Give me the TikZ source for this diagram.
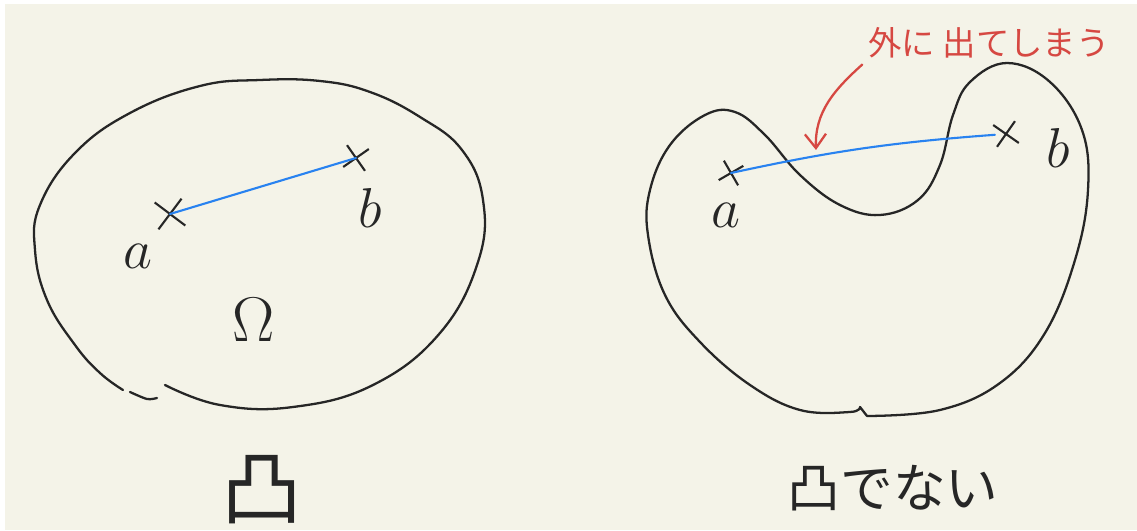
\documentclass[tikz,border=0pt]{standalone}
\usepackage{fix-cm}
\usepackage{fontspec}
\newfontfamily\jpfont{Noto Sans CJK JP}
\usepackage{amsmath}
\usepackage{tikz}
\usetikzlibrary{arrows.meta,shapes.misc,positioning}

\begin{document}
\begin{tikzpicture}[x=0.02cm, y=-0.02cm, >={Straight Barb[length=8pt,width=12pt]}]

        \definecolor{paper}{RGB}{244, 243, 232}
        \definecolor{segblue}{RGB}{40, 130, 240}
        \definecolor{notered}{RGB}{214, 72, 66}
        \tikzset{
            outline/.style={draw=black!85, line width=1.3pt, line cap=round, line join=round},
            pointx/.style={cross out, draw=black!85, line width=1.2pt, minimum size=0.4cm, inner sep=0pt},
            blueseg/.style={draw=segblue, line width=1.2pt, line cap=round},
            letter/.style={font=\fontsize{32}{32}\selectfont, text=black!85},
            caption/.style={font=\jpfont\fontsize{30}{30}\selectfont, text=black!85},
            remark/.style={font=\jpfont\fontsize{19}{19}\selectfont, text=notered},
            redarrow/.style={->, line width=1.3pt, draw=notered, line cap=round}
        }

        \fill[white] (0,0) rectangle (1137,530);
        \fill[paper] (5,4) rectangle (1137,530);


        \draw[outline] plot[smooth, tension=0.7] coordinates {(165,385) (220,405) (293,407) (373,385) (440,333) (478,262) (483,200) (462,150) (420,117) (370,92) (320,81) (260,80) (200,86) (130,113) (75,153) (40,205) (35,250) (47,300) (75,345) (100,373) (123,390)};
        \draw[outline] plot[smooth] coordinates {(130,392) (147,399) (157,398)};


        \draw[outline] plot[smooth, tension=0.65] coordinates {(867,416) (940,410) (1000,383) (1045,333) (1075,260) (1088,190) (1082,130) (1050,82) (1007,63) (970,82) (953,115) (940,165) (918,200) (880,215) (840,205) (800,175) (765,135) (735,112) (705,115) (670,145) (650,190) (648,235) (665,295) (700,342) (750,385) (800,410) (850,412) (860,407)} -- (867,416);


        \node[pointx, minimum size=0.5cm, rotate=8] (a1) at (170,214) {};
        \node[pointx, rotate=-10] (b1) at (356,158) {};
        \node[pointx, minimum size=0.36cm, rotate=-15] (a2) at (731,173) {};
        \node[pointx, rotate=10] (b2) at (1006,134) {};

        \draw[blueseg] (a1.center) -- (b1.center);
        \draw[blueseg] (a2.center) to[bend left=4] (b2);


        \node[letter] (a1lbl) at (138,256) {$a$};
        \node[letter] (b1lbl) at (370,208) {$b$};
        \node[letter] (a2lbl) at (726,215) {$a$};
        \node[letter] (b2lbl) at (1058,148) {$b$};
        \node[letter, font=\fontsize{36}{36}\selectfont] (omega) at (254,320) {$\Omega$};


        \node[remark] (outside) at (989,43) {外に 出てしまう};
        \coordinate (hit) at (816,150);
        \draw[redarrow] (outside.south west) to[out=222, in=92] (hit);


        \node[caption, font=\jpfont\fontsize{46}{46}\selectfont] (convex) at (262,490) {凸};
        \node[caption] (notconvex) at (893,488) {凸でない};

    \end{tikzpicture}
\end{document}
